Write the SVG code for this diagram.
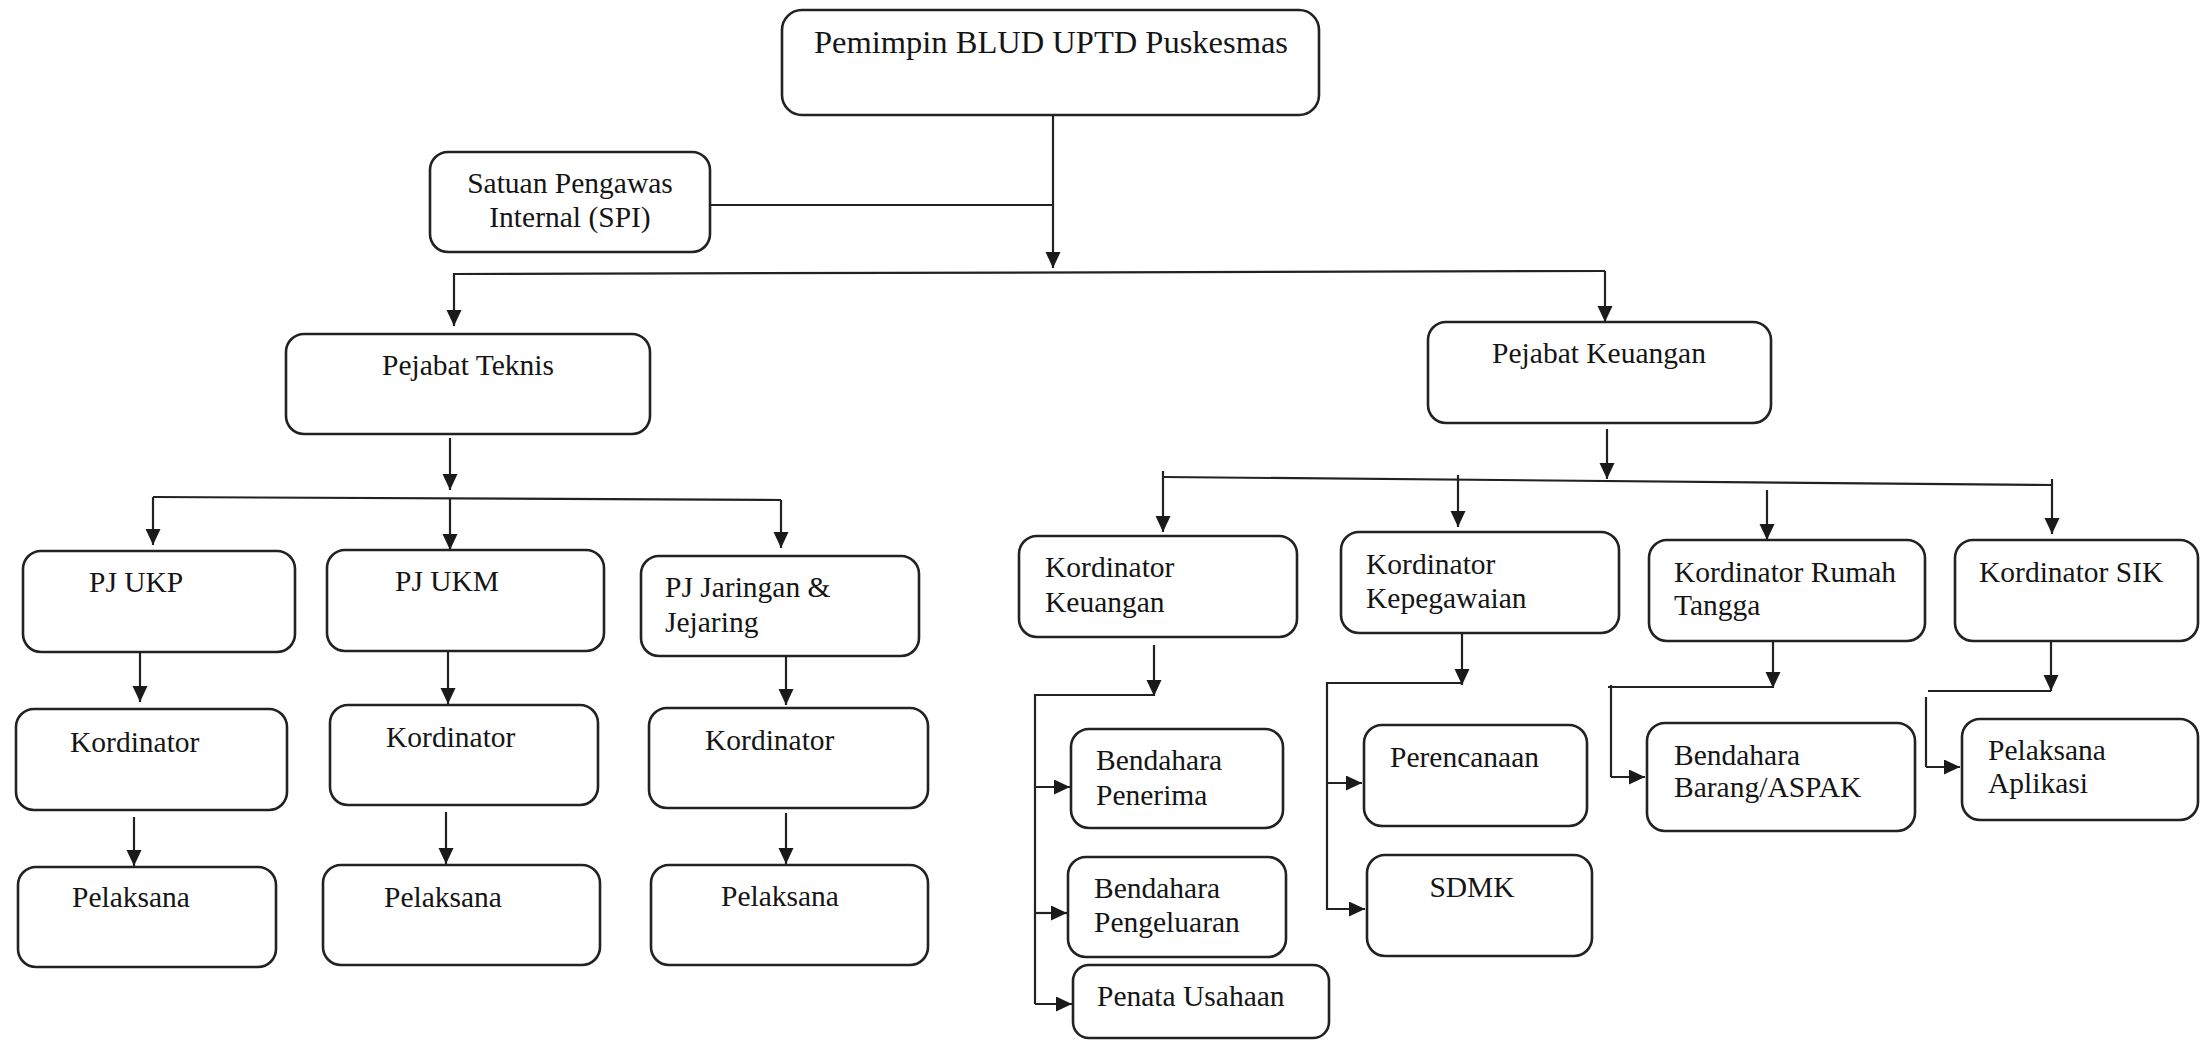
<svg xmlns="http://www.w3.org/2000/svg" width="2209" height="1040" viewBox="0 0 2209 1040">
<defs>
<style>
.box{fill:#fff;stroke:#222;stroke-width:2.6}
.t{font-family:"Liberation Serif","Times New Roman",serif;font-size:29.5px;fill:#151515}
.tt{font-family:"Liberation Serif","Times New Roman",serif;font-size:32.5px;fill:#151515}
.c{text-anchor:middle}
.ln{fill:none;stroke:#222;stroke-width:2.2}
.ar{fill:none;stroke:#222;stroke-width:2.2;marker-end:url(#ah)}
</style>
<marker id="ah" markerUnits="userSpaceOnUse" markerWidth="18" markerHeight="16" refX="16" refY="7.5" orient="auto">
<path d="M0,0 L16,7.5 L0,15 z" fill="#1a1a1a"/>
</marker>
</defs>
<rect width="2209" height="1040" fill="#fff"/>

<g id="connectors">
<!-- top -->
<path class="ar" d="M1053,116 V268"/>
<path class="ln" d="M710,205 H1053"/>
<path class="ln" d="M454,274 L1605,271"/>
<path class="ar" d="M454,273 V326"/>
<path class="ar" d="M1605,271 V322"/>
<!-- Pejabat Teknis -->
<path class="ar" d="M450,438 V490"/>
<path class="ln" d="M153,497 L781,500"/>
<path class="ar" d="M153,497 V545"/>
<path class="ar" d="M450,498 V550"/>
<path class="ar" d="M781,500 V548"/>
<path class="ar" d="M140,652 V702"/>
<path class="ar" d="M448,651 V704"/>
<path class="ar" d="M786,656 V705"/>
<path class="ar" d="M134,817 V866"/>
<path class="ar" d="M446,812 V864"/>
<path class="ar" d="M786,813 V864"/>
<!-- Pejabat Keuangan -->
<path class="ar" d="M1607,429 V479"/>
<path class="ln" d="M1163,477 L2052,485"/>
<path class="ar" d="M1163,471 V532"/>
<path class="ar" d="M1458,475 V527"/>
<path class="ar" d="M1767,490 V540"/>
<path class="ar" d="M2052,479 V534"/>
<!-- Kordinator Keuangan -->
<path class="ar" d="M1154,645 V696"/>
<path class="ln" d="M1154,695 H1035 V1004"/>
<path class="ar" d="M1035,787 H1070"/>
<path class="ar" d="M1035,913 H1067"/>
<path class="ar" d="M1035,1004 H1072"/>
<!-- Kordinator Kepegawaian -->
<path class="ar" d="M1462,633 V685"/>
<path class="ln" d="M1462,683 H1327 V910"/>
<path class="ar" d="M1327,783 H1362"/>
<path class="ar" d="M1327,909 H1365"/>
<!-- Kordinator Rumah Tangga -->
<path class="ar" d="M1773,641 V688"/>
<path class="ln" d="M1773,687 H1608"/>
<path class="ln" d="M1611,685 V777"/>
<path class="ar" d="M1611,777 H1645"/>
<!-- Kordinator SIK -->
<path class="ar" d="M2051,641 V691"/>
<path class="ln" d="M2051,691 H1928"/>
<path class="ln" d="M1926,697 V767"/>
<path class="ar" d="M1926,767 H1960"/>
</g>

<g id="n-pemimpin"><rect class="box" x="782" y="10" width="537" height="105" rx="20"/><text class="tt c" x="1051" y="53">Pemimpin BLUD UPTD Puskesmas</text></g>
<g id="n-spi"><rect class="box" x="430" y="152" width="280" height="100" rx="18"/><text class="t c" x="570" y="193">Satuan Pengawas</text><text class="t c" x="570" y="227">Internal (SPI)</text></g>
<g id="n-pejabat-teknis"><rect class="box" x="286" y="334" width="364" height="100" rx="18"/><text class="t c" x="468" y="375">Pejabat Teknis</text></g>
<g id="n-pejabat-keuangan"><rect class="box" x="1428" y="322" width="343" height="101" rx="18"/><text class="t c" x="1599" y="363">Pejabat Keuangan</text></g>

<g id="n-pj-ukp"><rect class="box" x="23" y="551" width="272" height="101" rx="18"/><text class="t" x="89" y="592">PJ UKP</text></g>
<g id="n-pj-ukm"><rect class="box" x="327" y="550" width="277" height="101" rx="18"/><text class="t" x="395" y="591">PJ UKM</text></g>
<g id="n-pj-jaringan"><rect class="box" x="641" y="556" width="278" height="100" rx="18"/><text class="t" x="665" y="597">PJ Jaringan &amp;</text><text class="t" x="665" y="632">Jejaring</text></g>

<g id="n-kordinator-1"><rect class="box" x="16" y="709" width="271" height="101" rx="18"/><text class="t" x="70" y="752">Kordinator</text></g>
<g id="n-kordinator-2"><rect class="box" x="330" y="705" width="268" height="100" rx="18"/><text class="t" x="386" y="747">Kordinator</text></g>
<g id="n-kordinator-3"><rect class="box" x="649" y="708" width="279" height="100" rx="18"/><text class="t" x="705" y="750">Kordinator</text></g>

<g id="n-pelaksana-1"><rect class="box" x="18" y="867" width="258" height="100" rx="18"/><text class="t" x="72" y="907">Pelaksana</text></g>
<g id="n-pelaksana-2"><rect class="box" x="323" y="865" width="277" height="100" rx="18"/><text class="t" x="384" y="907">Pelaksana</text></g>
<g id="n-pelaksana-3"><rect class="box" x="651" y="865" width="277" height="100" rx="18"/><text class="t" x="721" y="906">Pelaksana</text></g>

<g id="n-kord-keuangan"><rect class="box" x="1019" y="536" width="278" height="101" rx="18"/><text class="t" x="1045" y="577">Kordinator</text><text class="t" x="1045" y="612">Keuangan</text></g>
<g id="n-kord-kepegawaian"><rect class="box" x="1341" y="532" width="278" height="101" rx="18"/><text class="t" x="1366" y="574">Kordinator</text><text class="t" x="1366" y="608">Kepegawaian</text></g>
<g id="n-kord-rumah-tangga"><rect class="box" x="1649" y="540" width="276" height="101" rx="18"/><text class="t" x="1674" y="582">Kordinator Rumah</text><text class="t" x="1674" y="615">Tangga</text></g>
<g id="n-kord-sik"><rect class="box" x="1955" y="540" width="243" height="101" rx="18"/><text class="t" x="1979" y="582">Kordinator SIK</text></g>

<g id="n-bendahara-penerima"><rect class="box" x="1071" y="729" width="212" height="99" rx="18"/><text class="t" x="1096" y="770">Bendahara</text><text class="t" x="1096" y="805">Penerima</text></g>
<g id="n-bendahara-pengeluaran"><rect class="box" x="1068" y="857" width="218" height="100" rx="18"/><text class="t" x="1094" y="898">Bendahara</text><text class="t" x="1094" y="932">Pengeluaran</text></g>
<g id="n-penata-usahaan"><rect class="box" x="1073" y="965" width="256" height="73" rx="16"/><text class="t" x="1097" y="1006">Penata Usahaan</text></g>
<g id="n-perencanaan"><rect class="box" x="1364" y="725" width="223" height="101" rx="18"/><text class="t" x="1390" y="767">Perencanaan</text></g>
<g id="n-sdmk"><rect class="box" x="1367" y="855" width="225" height="101" rx="18"/><text class="t c" x="1472" y="897">SDMK</text></g>
<g id="n-bendahara-barang"><rect class="box" x="1647" y="723" width="268" height="108" rx="18"/><text class="t" x="1674" y="765">Bendahara</text><text class="t" x="1674" y="797">Barang/ASPAK</text></g>
<g id="n-pelaksana-aplikasi"><rect class="box" x="1962" y="719" width="236" height="101" rx="18"/><text class="t" x="1988" y="760">Pelaksana</text><text class="t" x="1988" y="793">Aplikasi</text></g>
</svg>
